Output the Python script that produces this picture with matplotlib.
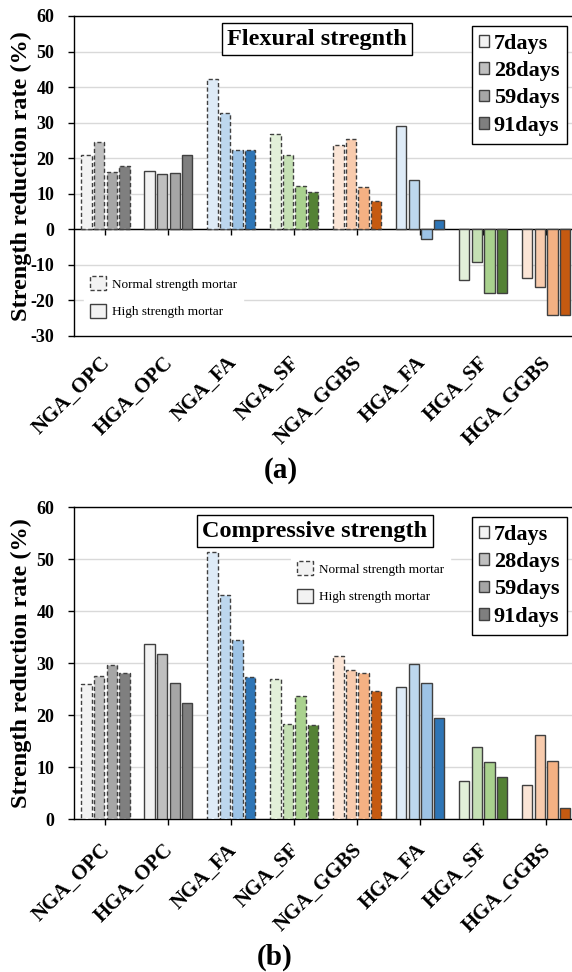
import matplotlib
matplotlib.use("Agg")
import matplotlib.pyplot as plt
from matplotlib.patches import Patch
from matplotlib.transforms import ScaledTranslation
import numpy as np

# ---------------- data ----------------
groups = ["NGA_OPC", "HGA_OPC", "NGA_FA", "NGA_SF", "NGA_GGBS", "HGA_FA", "HGA_SF", "HGA_GGBS"]
ages = ["7days", "28days", "59days", "91days"]

flex_7 = [21.0, 16.5, 42.4, 26.7, 23.8, 29.2, -14.2, -13.7]
flex_28 = [24.5, 15.5, 32.7, 21.0, 25.4, 13.9, -9.2, -16.2]
flex_59 = [16.2, 15.8, 22.2, 12.2, 12.0, -2.6, -17.9, -24.1]
flex_91 = [17.7, 21.0, 22.3, 10.6, 8.1, 2.6, -17.9, -24.1]

comp_7 = [26.0, 33.7, 51.3, 26.9, 31.3, 25.4, 7.3, 6.5]
comp_28 = [27.5, 31.7, 43.1, 18.2, 28.6, 29.8, 13.8, 16.1]
comp_59 = [29.6, 26.2, 34.5, 23.6, 28.0, 26.2, 11.0, 11.1]
comp_91 = [28.1, 22.3, 27.3, 18.1, 24.6, 19.4, 8.1, 2.1]

gray = ['#f2f2f2', '#bfbfbf', '#a6a6a6', '#7f7f7f']
blue = ['#deebf7', '#bdd7ee', '#9dc3e6', '#2e75b6']
green = ['#e2f0d9', '#c5e0b4', '#a9d18e', '#548235']
orange = ['#fbe5d6', '#f8cbad', '#f4b183', '#c55a11']
group_colors = [gray, gray, blue, green, orange, blue, green, orange]
normal_mortar = [True, False, True, True, True, False, False, False]

flex_ticks = [60, 50, 40, 30, 20, 10, 0, -10, -20, -30]
comp_ticks = [60, 50, 40, 30, 20, 10, 0]

# ---------------- style ----------------
plt.rcParams['font.family'] = ['Liberation Serif', 'DejaVu Serif']
W, H = 572, 972
fig = plt.figure(figsize=(W / 100, H / 100), dpi=100)

EDGE = '#404040'
GRID = '#d9d9d9'
BW = 0.165
STEP = 0.2
XT_SIZE = 15


def px(x, y):
    return (x / W, 1 - y / H)


def draw_bars(ax, series):
    x = np.arange(len(groups))
    for k, vals in enumerate(series):
        for i in range(len(groups)):
            ls = (0, (3, 1.8)) if normal_mortar[i] else '-'
            ax.bar(x[i] + (k - 1.5) * STEP, vals[i], width=BW,
                   color=group_colors[i][k], edgecolor=EDGE, linewidth=1.0,
                   linestyle=ls, zorder=3)


def style_axes(ax, ticks):
    ax.set_xlim(-0.5, len(groups) - 0.5)
    ax.set_ylim(min(ticks), max(ticks))
    ax.set_yticks(ticks)
    ax.set_yticklabels([str(t) for t in ticks], fontweight='bold', fontsize=13)
    ax.yaxis.grid(True, color=GRID, linewidth=1.0, zorder=0)
    ax.set_axisbelow(True)
    for s in ['left', 'top', 'bottom']:
        ax.spines[s].set_color('black')
        ax.spines[s].set_linewidth(1.0)
    ax.spines['right'].set_visible(False)
    ax.tick_params(axis='y', direction='out', length=4, width=1, pad=10)
    ax.set_ylabel("Strength reduction rate (%)", fontweight='bold', fontsize=17.5)
    ax.yaxis.set_label_coords(-0.083, 0.5)


def shift_labels(labels, dx_px):
    for lab in labels:
        lab.set_transform(lab.get_transform() + ScaledTranslation(dx_px / 100, 0, fig.dpi_scale_trans))


def age_legend(ax, top_y):
    handles = [Patch(facecolor=gray[k], edgecolor=EDGE, linewidth=1.0) for k in range(4)]
    leg = ax.legend(handles, ages, loc='upper right',
                    bbox_to_anchor=px(567, top_y), bbox_transform=fig.transFigure,
                    prop={'weight': 'bold', 'size': 16}, frameon=True, fancybox=False,
                    edgecolor='black', framealpha=1, handlelength=0.45, handleheight=0.45,
                    handletextpad=0.2, borderpad=0.35, labelspacing=0.33, borderaxespad=0)
    leg.get_frame().set_linewidth(1.0)
    return leg


def mortar_legend(ax, left_x, top_y):
    handles = [Patch(facecolor='#f2f2f2', edgecolor=EDGE, linewidth=1.0, linestyle=(0, (3, 1.8))),
               Patch(facecolor='#f2f2f2', edgecolor=EDGE, linewidth=1.0)]
    leg = ax.legend(handles, ["Normal strength mortar", "High strength mortar"],
                    loc='upper left', bbox_to_anchor=px(left_x, top_y),
                    bbox_transform=fig.transFigure, prop={'size': 9.5},
                    frameon=True, fancybox=False, edgecolor='white', facecolor='white',
                    framealpha=1, handlelength=1.2, handleheight=1.3, handletextpad=0.5,
                    borderpad=0.45, labelspacing=1.0, borderaxespad=0)
    return leg


def title_box(text, cx, cy):
    fig.text(cx / W, 1 - cy / H, text, ha='center', va='center', fontsize=17.5,
             fontweight='bold', zorder=10,
             bbox=dict(boxstyle='square,pad=0.22', facecolor='white',
                       edgecolor='black', linewidth=1.0))


# ---------------- (a) flexural ----------------
ax1 = fig.add_axes([74 / W, 1 - 336 / H, 503.5 / W, 320 / H])
draw_bars(ax1, [flex_7, flex_28, flex_59, flex_91])
style_axes(ax1, flex_ticks)
ax1.spines['bottom'].set_position(('data', 0))
ax1.set_xticks(np.arange(len(groups)))
ax1.tick_params(axis='x', direction='out', length=4, width=1, labelbottom=False)
sec1 = ax1.secondary_xaxis('bottom')
sec1.set_xticks(np.arange(len(groups)))
sec1.set_xticklabels(groups, rotation=45, ha='right', rotation_mode='anchor',
                     fontweight='bold', fontsize=XT_SIZE)
sec1.tick_params(axis='x', length=0, pad=12)
sec1.spines['bottom'].set_linewidth(1.0)
shift_labels(sec1.get_xticklabels(), -5)
l1 = mortar_legend(ax1, 84, 270)
ax1.add_artist(l1)
age_legend(ax1, 26)
title_box("Flexural stregnth", 317, 39)
fig.text(281 / W, 1 - 471 / H, "(a)", ha='center', va='center', fontsize=21, fontweight='bold')

# ---------------- (b) compressive ----------------
ax2 = fig.add_axes([74 / W, 1 - 819 / H, 503.5 / W, 312 / H])
draw_bars(ax2, [comp_7, comp_28, comp_59, comp_91])
style_axes(ax2, comp_ticks)
ax2.set_xticks(np.arange(len(groups)))
ax2.set_xticklabels(groups, rotation=45, ha='right', rotation_mode='anchor',
                    fontweight='bold', fontsize=XT_SIZE)
ax2.tick_params(axis='x', direction='out', length=4, width=1, pad=11)
shift_labels(ax2.get_xticklabels(), -5)
l2 = mortar_legend(ax2, 291, 555)
ax2.add_artist(l2)
age_legend(ax2, 517)
title_box("Compressive strength", 315, 531)
fig.text(275 / W, 1 - 957 / H, "(b)", ha='center', va='center', fontsize=21, fontweight='bold')

fig.savefig("out.png", dpi=100)
